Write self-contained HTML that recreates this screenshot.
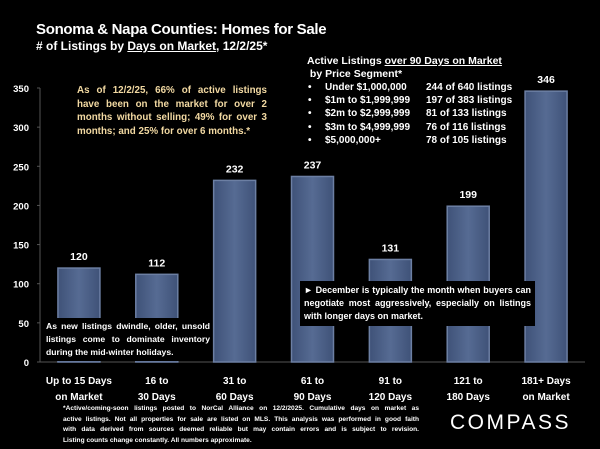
<!DOCTYPE html>
<html><head><meta charset="utf-8"><style>
body{margin:0;background:#000;width:600px;height:449px;overflow:hidden;font-family:"Liberation Sans",sans-serif;color:#fff}
svg{position:absolute;left:0;top:0}
.t{position:absolute;white-space:nowrap}
.j div{text-align:justify;text-align-last:justify}
.j div.last{text-align-last:left}
</style></head><body>
<svg id="chart" width="600" height="449">
<defs><linearGradient id="g" x1="0" x2="1"><stop offset="0" stop-color="#3f5278"/><stop offset="0.5" stop-color="#566b93"/><stop offset="1" stop-color="#3f5278"/></linearGradient></defs>
</svg>
<div class="t" style="left:36px;top:21px;font-size:15px;letter-spacing:-0.3px;font-weight:bold">Sonoma &amp; Napa Counties: Homes for Sale</div>
<div class="t" style="left:36px;top:39px;font-size:12px;font-weight:bold"># of Listings by <u>Days on Market</u>, 12/2/25*</div>
<div class="t j" style="left:77px;top:84px;width:190px;white-space:normal;font-size:9.8px;line-height:13.7px;color:#f2d9a2;font-weight:bold"><div>As of 12/2/25, 66% of active listings</div><div>have been on the market for over 2</div><div>months without selling; 49% for over 3</div><div class="last">months; and 25% for over 6 months.*</div></div>
<div class="t" style="left:307px;top:55px;font-size:10.5px;font-weight:bold;line-height:13px">Active Listings <u>over 90 Days on Market</u><br>&nbsp;by Price Segment*</div>
<div id="seg"></div>
<div class="t" style="left:44px;top:318px;width:164px;padding:2px 2px;background:#000;white-space:normal;text-align:justify;font-size:8.6px;line-height:13px;font-weight:bold">As new listings dwindle, older, unsold listings come to dominate inventory during the mid-winter holidays.</div>
<div class="t" style="left:300px;top:281px;width:227px;padding:3px 4px;background:#000;white-space:normal;text-align:justify;font-size:9px;line-height:13px;font-weight:bold">► December is typically the month when buyers can negotiate most aggressively, especially on listings with longer days on market.</div>
<div class="t j" style="left:63px;top:404px;width:356px;white-space:normal;font-size:6.6px;line-height:10.5px;font-weight:bold"><div>*Active/coming-soon listings posted to NorCal Alliance on 12/2/2025. Cumulative days on market as</div><div>active listings. Not all properties for sale are listed on MLS. This analysis was performed in good faith</div><div>with data derived from sources deemed reliable but may contain errors and is subject to revision.</div><div class="last">Listing counts change constantly. All numbers approximate.</div></div>
<div class="t" style="left:450px;top:411px;font-size:21px;letter-spacing:2.5px">COMPASS</div>
<script>
const categories=[["Up to 15 Days","on  Market"],["16 to","30 Days"],["31 to","60 Days"],["61 to","90 Days"],["91 to","120 Days"],["121 to","180 Days"],["181+ Days","on Market"]];
const values=[120,112,232,237,131,199,346];
const yTicks=[0,50,100,150,200,250,300,350];
const segLabels=["Under $1,000,000","$1m to $1,999,999","$2m to $2,999,999","$3m to $4,999,999","$5,000,000+"];
const segCounts=["244 of 640 listings","197 of 383 listings","81 of 133 listings","76 of 116 listings","78 of 105 listings"];
const NS="http://www.w3.org/2000/svg",svg=document.getElementById('chart');
const x0=40,x1=585,y0=362,yTop=88,ymax=350;
const y=v=>y0-(v/ymax)*(y0-yTop);
const band=(x1-x0)/categories.length;
const xc=i=>x0+band*(i+0.5);
function mk(t,a){const e=document.createElementNS(NS,t);for(const k in a)e.setAttribute(k,a[k]);svg.appendChild(e);return e;}
let ax=mk('line',{x1:x0,y1:yTop,x2:x0,y2:y0,stroke:'#555'});


let bx=mk('line',{x1:x0,y1:y0,x2:x1,y2:y0,stroke:'#555'});


yTicks.forEach(v=>{const t=mk('text',{x:29,y:y(v)+4,'text-anchor':'end','font-size':9.5,'font-weight':'bold',fill:'#fff'});t.textContent=v;


mk('line',{x1:x0-3,y1:y(v),x2:x0,y2:y(v),stroke:'#555'});});
values.forEach((v,i)=>{const w=42;const r=mk('rect',{x:xc(i)-w/2,y:y(v),width:w,height:y0-y(v),fill:'url(#g)',stroke:'#6c7fa3','stroke-width':1.5});


const t=mk('text',{x:xc(i),y:y(v)-8,'text-anchor':'middle','font-size':10.5,'font-weight':'bold',fill:'#fff'});t.textContent=v;


categories[i].forEach((s,j)=>{const c=mk('text',{x:xc(i),y:384+j*16,'text-anchor':'middle','font-size':10,'font-weight':'bold',fill:'#fff','xml:space':'preserve'});c.textContent=s;

});});
const seg=document.getElementById('seg');
segLabels.forEach((s,i)=>{const d=document.createElement('div');d.className='t';d.style.cssText=`left:308px;top:${82+i*13.2}px;font-size:10px;font-weight:bold`;d.innerHTML=`•<span style="position:absolute;left:17px">${s}</span><span style="position:absolute;left:118px">${segCounts[i]}</span>`;


seg.appendChild(d);});
</script>
</body></html>
